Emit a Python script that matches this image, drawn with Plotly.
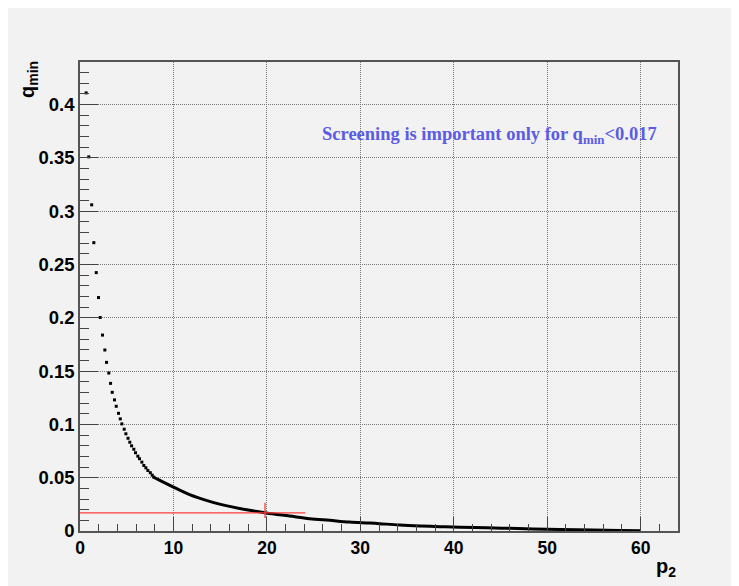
import plotly.graph_objects as go

# ---- data ----
dot_p = [0.66, 0.94, 1.25, 1.48, 1.74, 1.98, 2.16, 2.41, 2.66, 2.84, 3.08, 3.27,
         3.45, 3.69, 3.88, 4.12, 4.31, 4.48, 4.73, 4.91, 5.14, 5.33, 5.52, 5.76,
         5.94, 6.19, 6.37, 6.62, 6.83, 7.05, 7.26, 7.52, 7.73, 7.90]
dot_q = [0.411, 0.351, 0.306, 0.2705, 0.2424, 0.219, 0.2003, 0.1838, 0.1698,
         0.1582, 0.1482, 0.1385, 0.1301, 0.1230, 0.1170, 0.1104, 0.1052, 0.1005,
         0.0955, 0.0912, 0.0870, 0.0833, 0.0799, 0.0767, 0.0734, 0.0702, 0.0678,
         0.0646, 0.0615, 0.0593, 0.0568, 0.0547, 0.0524, 0.0505]

line_p = [7.9, 8.33, 10.0, 11.73, 13.87, 16.0, 18.15, 19.94, 22.44, 24.58, 26.72,
          28.86, 31.0, 32.07, 34.2, 36.4, 38.5, 40.66, 43.5, 46.0, 48.5, 51.4,
          54.9, 57.8, 60.0]
line_q = [0.0505, 0.0484, 0.0412, 0.0341, 0.0278, 0.0231, 0.0194, 0.0168, 0.0140,
          0.0116, 0.0100, 0.0084, 0.0075, 0.0069, 0.0056, 0.0047, 0.0041, 0.0035,
          0.0030, 0.0025, 0.0018, 0.0014, 0.0010, 0.0005, 0.0003]

thr_p = [0.0, 24.1]
thr_q = [0.017, 0.017]
mark_p = [19.8, 19.8]
mark_q = [0.0122, 0.0266]

x_range = [0, 64]
y_range = [0, 0.44]

# ---- layout geometry (pixels) ----
OFF = 8                      # page body margin
W, H = 739 - OFF, 586 - OFF  # figure size that fits the window
ML, MR, MT, MB = 72, 61, 54, 55
PW, PH = W - ML - MR, H - MT - MB


def px(x):  # page x -> paper
    return (x - OFF - ML) / PW


def py(y):  # page y -> paper
    return (OFF + H - MB - y) / PH


fam = "Liberation Sans, Arial, sans-serif"
x_font = dict(family=fam, size=17.5, color="black", weight="bold")
y_font = dict(family=fam, size=18.5, color="black", weight="bold")
title_font = dict(family=fam, size=20, color="black", weight="bold")

fig = go.Figure()
fig.add_trace(go.Scatter(x=line_p, y=line_q, mode="lines",
                         line=dict(color="black", width=3, shape="spline"),
                         hoverinfo="skip", showlegend=False))
fig.add_trace(go.Scatter(x=dot_p, y=dot_q, mode="markers",
                         marker=dict(color="black", size=3, symbol="square",
                                     line=dict(width=0)),
                         showlegend=False))
fig.add_trace(go.Scatter(x=thr_p, y=thr_q, mode="lines",
                         line=dict(color="#ff3b3b", width=1.3), showlegend=False))
fig.add_trace(go.Scatter(x=mark_p, y=mark_q, mode="lines",
                         line=dict(color="#ff3b3b", width=1.3), showlegend=False))

grid = dict(showgrid=True, gridcolor="#777777", griddash="1px,1px", gridwidth=1,
            zeroline=False, showline=True, linecolor="#555555", linewidth=1.5,
            mirror=True, ticks="inside", tickcolor="#444444", tickwidth=1)

fig.update_xaxes(range=x_range, dtick=10, tick0=0, ticklen=14,
                 ticklabelstandoff=0, tickfont=x_font,
                 minor=dict(dtick=2, ticks="inside", ticklen=7,
                            tickcolor="#444444", showgrid=False),
                 **grid)
fig.update_yaxes(range=y_range, dtick=0.05, tick0=0, ticklen=18,
                 tickfont=y_font,
                 minor=dict(dtick=0.01, ticks="inside", ticklen=9,
                            tickcolor="#444444", showgrid=False),
                 **grid)

fig.update_layout(
    width=W, height=H,
    margin=dict(l=ML, r=MR, t=MT, b=MB, pad=0, autoexpand=False),
    paper_bgcolor="#f2f2f2",
    plot_bgcolor="#f2f2f2",
    annotations=[
        dict(text="q<sub>min</sub>", xref="paper", yref="paper",
             x=px(29), y=py(80), textangle=-90, showarrow=False,
             xanchor="center", yanchor="middle", font=title_font),
        dict(text="p<sub>2</sub>", xref="paper", yref="paper",
             x=px(678), y=py(567), showarrow=False,
             xanchor="right", yanchor="middle", font=title_font),
        dict(text="Screening is important only for q<sub>min</sub>&lt;0.017",
             xref="paper", yref="paper", x=px(489), y=py(135),
             showarrow=False, xanchor="center", yanchor="middle",
             font=dict(family="Liberation Serif, Times New Roman, serif",
                       size=18.5, color="#5b5be6", weight="bold")),
    ],
)

fig.write_html("out.html")
